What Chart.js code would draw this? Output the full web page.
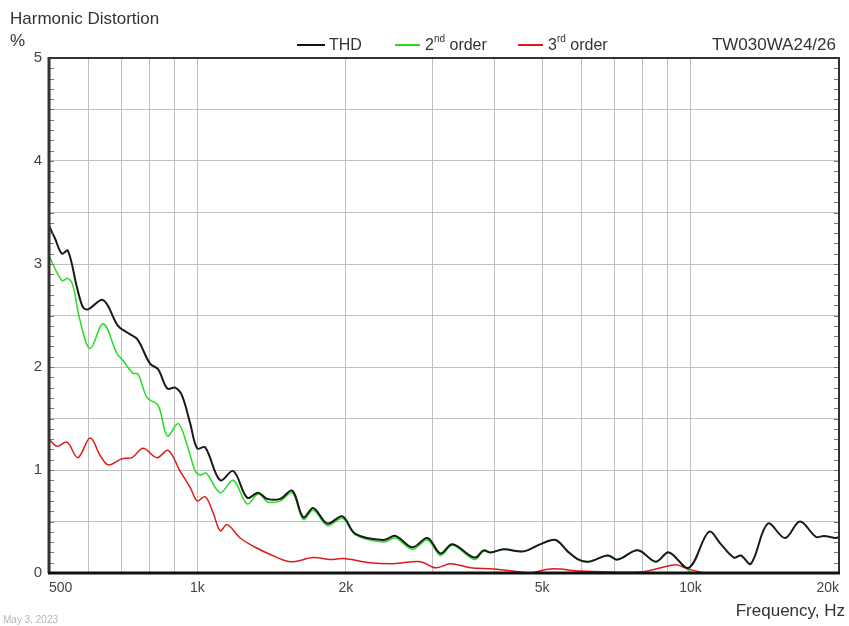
<!DOCTYPE html>
<html>
<head>
<meta charset="utf-8">
<script src="https://cdn.jsdelivr.net/npm/chart.js@4"></script>
<style>
  html, body { margin:0; padding:0; background:#fff; }
  #wrap { position:relative; width:849px; height:626px; overflow:hidden; font-family:"Liberation Sans", Arial, sans-serif; color:#333; }
  canvas { position:absolute; left:0; top:0; }
  .t { position:absolute; white-space:nowrap; line-height:20px; }
  .lg { position:absolute; height:2px; top:44px; }
  sup { font-size:10px; position:relative; top:-1px; vertical-align:top; line-height:10px; }
</style>
</head>
<body>
<div id="wrap">
  <canvas id="c" width="849" height="626"></canvas>
  <div class="t" style="left:10px;top:9px;font-size:17px;">Harmonic Distortion</div>
  <div class="t" style="left:10px;top:31px;font-size:17px;">%</div>
  <div class="lg" style="left:297px;width:28px;background:#111;"></div>
  <div class="t" style="left:329px;top:35px;font-size:16px;">THD</div>
  <div class="lg" style="left:395px;width:25px;background:#22dd22;"></div>
  <div class="t" style="left:425px;top:35px;font-size:16px;">2<sup>nd</sup> order</div>
  <div class="lg" style="left:518px;width:25px;background:#dd1a1a;"></div>
  <div class="t" style="left:548px;top:35px;font-size:16px;">3<sup>rd</sup> order</div>
  <div class="t" style="right:13px;top:35px;font-size:17px;">TW030WA24/26</div>
  <div class="t" style="right:4px;top:601px;font-size:17px;">Frequency, Hz</div>
  <div class="t" style="left:3px;top:614px;font-size:10px;line-height:12px;color:#b5b5b5;">May 3, 2023</div>
</div>
<script>
// ---- data ----
const thdFreq = [500,514,531,546,570,586,600,644,690,723,755,802,832,869,902,931,967,999,1037,1112,1182,1262,1328,1385,1472,1557,1639,1718,1834,1968,2091,2383,2521,2729,2927,3110,3289,3647,3804,3930,4176,4586,4965,5326,5633,5930,6214,6792,7116,7816,8502,9034,9920,10893,11520,12240,12650,13255,14350,15540,16665,17960,18640,19715,20000];
const thdPct  = [3.37,3.25,3.10,3.13,2.77,2.58,2.56,2.65,2.40,2.33,2.27,2.03,1.98,1.79,1.80,1.72,1.45,1.21,1.22,0.90,0.99,0.73,0.78,0.72,0.72,0.80,0.54,0.63,0.48,0.55,0.38,0.32,0.36,0.25,0.34,0.19,0.28,0.15,0.22,0.20,0.23,0.21,0.28,0.32,0.21,0.13,0.11,0.17,0.13,0.22,0.11,0.20,0.05,0.40,0.28,0.15,0.17,0.09,0.48,0.34,0.50,0.35,0.36,0.34,0.35];

const h2Freq = [500,531,546,559,578,606,644,687,707,740,758,791,832,869,914,953,990,1013,1042,1112,1182,1262,1328,1390,1472,1557,1639,1718,1834,1968,2091,2383,2521,2729,2927,3110,3289,3647,3804,3930,4176,4586,4965,5326,5633,5930,6214,6792,7116,7816,8502,9034,9500,9920,10000];
const h2Pct  = [3.08,2.84,2.86,2.79,2.45,2.18,2.42,2.13,2.06,1.94,1.93,1.70,1.63,1.33,1.45,1.24,0.99,0.95,0.97,0.78,0.90,0.67,0.77,0.69,0.70,0.78,0.52,0.61,0.46,0.53,0.37,0.30,0.34,0.23,0.32,0.17,0.27,0.13,0.21,0.20,0.23,0.21,0.28,0.32,0.21,0.13,0.11,0.17,0.13,0.22,0.11,0.20,0.11,0.02,0.00];

const h3Freq = [500,519,544,572,606,635,659,703,737,776,828,872,922,967,999,1037,1077,1112,1149,1221,1310,1405,1543,1718,1860,1977,2242,2497,2833,3039,3259,3579,3986,4522,4738,5203,5985,7924,8700,9333,9873,10640];
const h3Pct  = [1.30,1.23,1.27,1.12,1.31,1.14,1.05,1.11,1.12,1.21,1.12,1.19,0.99,0.83,0.70,0.74,0.58,0.41,0.47,0.34,0.25,0.18,0.11,0.15,0.13,0.14,0.10,0.09,0.11,0.05,0.09,0.05,0.04,0.01,0.00,0.04,0.02,0.01,0.05,0.08,0.04,0.00];

const xTickValues = [500,600,700,800,900,1000,2000,3000,4000,5000,6000,7000,8000,9000,10000,20000];
const xTickLabels = {500:'500',1000:'1k',2000:'2k',5000:'5k',10000:'10k',20000:'20k'};
const yMin = 0, yMax = 5, yGridStep = 0.5, yMinorStep = 0.1;

const pts = (fs, vs) => fs.map((f, i) => ({x: f, y: vs[i]}));

const framePlugin = {
  id: 'frame',
  afterDatasetsDraw(chart) {
    const {ctx, chartArea: a, scales} = chart;
    const y = scales.y;
    ctx.save();
    ctx.strokeStyle = '#777';
    ctx.lineWidth = 1;
    const n = Math.round((yMax - yMin) / yMinorStep);
    for (let i = 1; i < n; i++) {
      const py = Math.round(y.getPixelForValue(yMin + i * yMinorStep)) + 0.5;
      ctx.beginPath();
      ctx.moveTo(a.left, py); ctx.lineTo(a.left + 5, py);
      ctx.moveTo(a.right, py); ctx.lineTo(a.right - 5, py);
      ctx.stroke();
    }
    ctx.strokeStyle = '#333';
    ctx.lineWidth = 2;
    ctx.beginPath();
    ctx.moveTo(a.left, a.top); ctx.lineTo(a.right, a.top); ctx.lineTo(a.right, a.bottom);
    ctx.stroke();
    ctx.lineWidth = 3;
    ctx.beginPath();
    ctx.moveTo(a.left, a.top - 1); ctx.lineTo(a.left, a.bottom);
    ctx.stroke();
    ctx.strokeStyle = '#111';
    ctx.beginPath();
    ctx.moveTo(a.left - 1, a.bottom); ctx.lineTo(a.right + 1, a.bottom);
    ctx.stroke();
    ctx.restore();
  }
};

new Chart(document.getElementById('c'), {
  type: 'line',
  data: {
    datasets: [
      {label: 'THD', data: pts(thdFreq, thdPct), borderColor: '#1a1a1a', borderWidth: 2},
      {label: '2nd order', data: pts(h2Freq, h2Pct), borderColor: '#22dd22', borderWidth: 1.5},
      {label: '3rd order', data: pts(h3Freq, h3Pct), borderColor: '#dd1a1a', borderWidth: 1.5}
    ]
  },
  options: {
    responsive: false,
    animation: false,
    devicePixelRatio: 1,
    layout: {padding: {top: 58, right: 10, left: 0, bottom: 0}},
    elements: {point: {radius: 0}, line: {tension: 0.35, fill: false}},
    plugins: {legend: {display: false}, tooltip: {enabled: false}, title: {display: false}},
    scales: {
      x: {
        type: 'logarithmic',
        min: 500, max: 20000,
        afterFit(s) { s.height = 53; },
        afterBuildTicks(s) { s.ticks = xTickValues.map(v => ({value: v})); },
        grid: {color: '#c0c0c0', lineWidth: 1, drawTicks: false},
        border: {display: false},
        ticks: {
          autoSkip: false, maxRotation: 0, align: 'inner', padding: 7,
          color: '#444', font: {family: '"Liberation Sans", Arial, sans-serif', size: 14},
          callback: (v) => xTickLabels[v] || ''
        }
      },
      y: {
        type: 'linear',
        min: yMin, max: yMax,
        afterFit(s) { s.width = 49; },
        grid: {color: '#c0c0c0', lineWidth: 1, drawTicks: false},
        border: {display: false},
        ticks: {
          stepSize: yGridStep, padding: 7,
          color: '#444', font: {family: '"Liberation Sans", Arial, sans-serif', size: 15},
          callback: (v) => Number.isInteger(v) ? String(v) : ''
        }
      }
    }
  },
  plugins: [framePlugin]
});
</script>
</body>
</html>
